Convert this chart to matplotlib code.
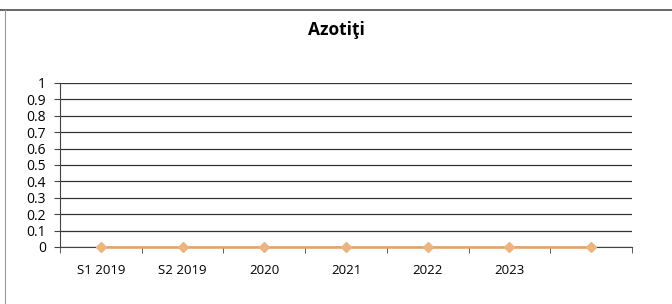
import matplotlib.pyplot as plt
from matplotlib.lines import Line2D
import numpy as np

# Data
categories = ["S1 2019", "S2 2019", "2020", "2021", "2022", "2023", ""]
values = [0, 0, 0, 0, 0, 0, 0]
y_ticks = [0, 0.1, 0.2, 0.3, 0.4, 0.5, 0.6, 0.7, 0.8, 0.9, 1]

plt.rcParams['font.family'] = ['Open Sans', 'DejaVu Sans']

fig = plt.figure(figsize=(6.72, 3.04), dpi=100)
ax = fig.add_axes([60 / 672, 1 - 247 / 304, 572 / 672, 164 / 304])

x = np.arange(len(categories))
ax.plot(x, values, color='#E6A15E', linewidth=1.8, marker='D', markersize=5,
        markerfacecolor='#EDB47E', markeredgecolor='#EDB47E', zorder=3, clip_on=False)

ax.set_xlim(-0.5, len(categories) - 0.5)
ax.set_ylim(0, 1)
ax.set_yticks(y_ticks)
ax.set_yticklabels([f"{t:g}" for t in y_ticks], fontsize=10)
ax.grid(axis='y', color='#333333', linewidth=0.9)
ax.set_axisbelow(True)

# category labels centered, ticks between categories
ax.set_xticks(x)
ax.set_xticklabels(categories, fontsize=9.5)
ax.tick_params(axis='x', length=0, pad=12)
ax.set_xticks(np.arange(len(categories) + 1) - 0.5, minor=True)
ax.tick_params(axis='x', which='minor', length=4, color='#444444', direction='out')
ax.tick_params(axis='y', length=4, color='#444444', pad=6)

for side in ['top', 'right']:
    ax.spines[side].set_visible(False)
ax.spines['left'].set_color('#444444')
ax.spines['bottom'].set_color('#444444')

fig.text(336 / 672, 1 - 30 / 304, "Azotiţi", ha='center', va='center',
         fontsize=12.5, fontweight='bold')

# outer frame lines
fig.add_artist(Line2D([0, 1], [1 - 10 / 304, 1 - 10 / 304], color='#666666', linewidth=1.4))
fig.add_artist(Line2D([5 / 672, 5 / 672], [0, 1 - 10 / 304], color='#999999', linewidth=0.8))

fig.savefig("out.png", dpi=100)
